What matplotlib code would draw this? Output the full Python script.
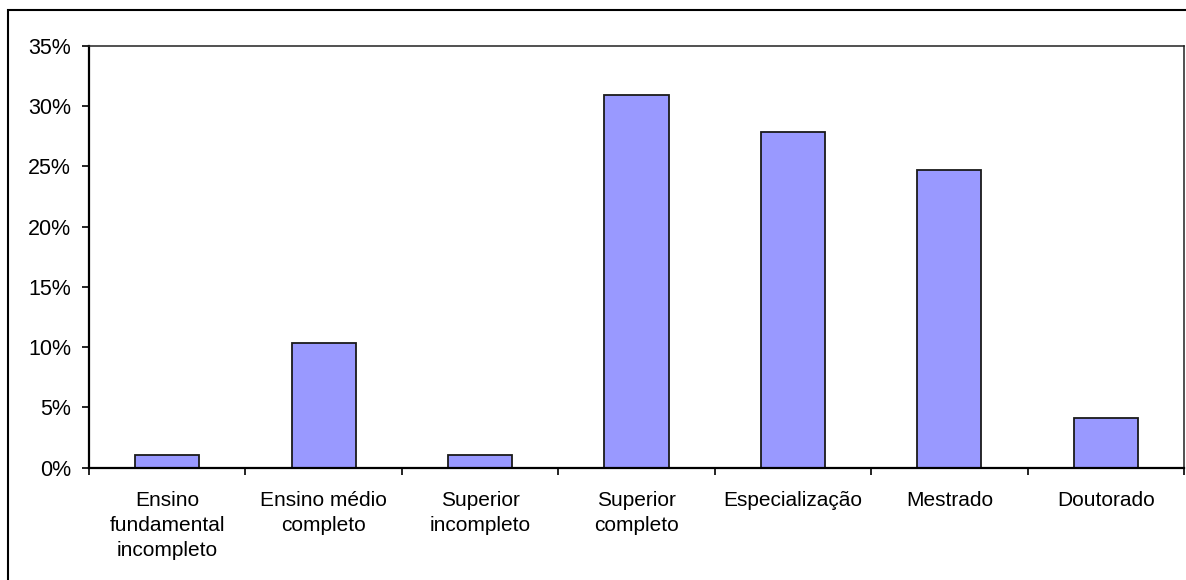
import numpy as np
import matplotlib
matplotlib.use("Agg")
import matplotlib.pyplot as plt
from matplotlib.patches import Rectangle
from matplotlib.ticker import FixedLocator, FuncFormatter

plt.rcParams['font.family'] = ['Liberation Sans', 'DejaVu Sans']

# escolaridade dos respondentes (n = 97)
categorias = ['Ensino\nfundamental\nincompleto', 'Ensino médio\ncompleto',
              'Superior\nincompleto', 'Superior\ncompleto', 'Especialização',
              'Mestrado', 'Doutorado']
percentuais = [1.03, 10.31, 1.03, 30.93, 27.84, 24.74, 4.12]
yticks = [0, 5, 10, 15, 20, 25, 30, 35]

fig = plt.figure(figsize=(11.86, 5.80), dpi=100)
ax = fig.add_axes([89/1186, 1 - 467.7/580, (1184 - 89)/1186, (467.7 - 46)/580])

# moldura externa do gráfico
fig.patches.append(Rectangle((8/1186, -0.2), 1.2, 1 - 10/580 + 0.2,
                             transform=fig.transFigure, fill=False,
                             edgecolor='black', linewidth=1.5))

x = np.arange(1, len(categorias) + 1)
ax.bar(x, percentuais, width=0.41, color='#9999FF', edgecolor='#1a1a1a',
       linewidth=1.3, zorder=2)

ax.set_xlim(0.5, len(categorias) + 0.5)
ax.set_ylim(0, 35)
ax.set_yticks(yticks)
ax.yaxis.set_major_formatter(FuncFormatter(lambda v, p: f'{v:.0f}%'))
ax.tick_params(axis='y', direction='out', length=5, width=1.2, pad=8,
               labelsize=15.5)

# marcas nas divisões das categorias, rótulos no centro
ax.xaxis.set_major_locator(FixedLocator(np.arange(0.5, len(categorias) + 1, 1)))
ax.xaxis.set_minor_locator(FixedLocator(x))
ax.set_xticklabels([], minor=False)
ax.set_xticklabels(categorias, minor=True)
ax.tick_params(axis='x', which='major', direction='out', length=5, width=1.2)
ax.tick_params(axis='x', which='minor', length=0, pad=17, labelsize=15)
for lbl in ax.get_xticklabels(minor=True):
    lbl.set_linespacing(1.4)

for s in ['left', 'bottom']:
    ax.spines[s].set_linewidth(1.6)
for s in ['top', 'right']:
    ax.spines[s].set_linewidth(1.1)
    ax.spines[s].set_color('#222222')

fig.savefig('out.png', dpi=100)
